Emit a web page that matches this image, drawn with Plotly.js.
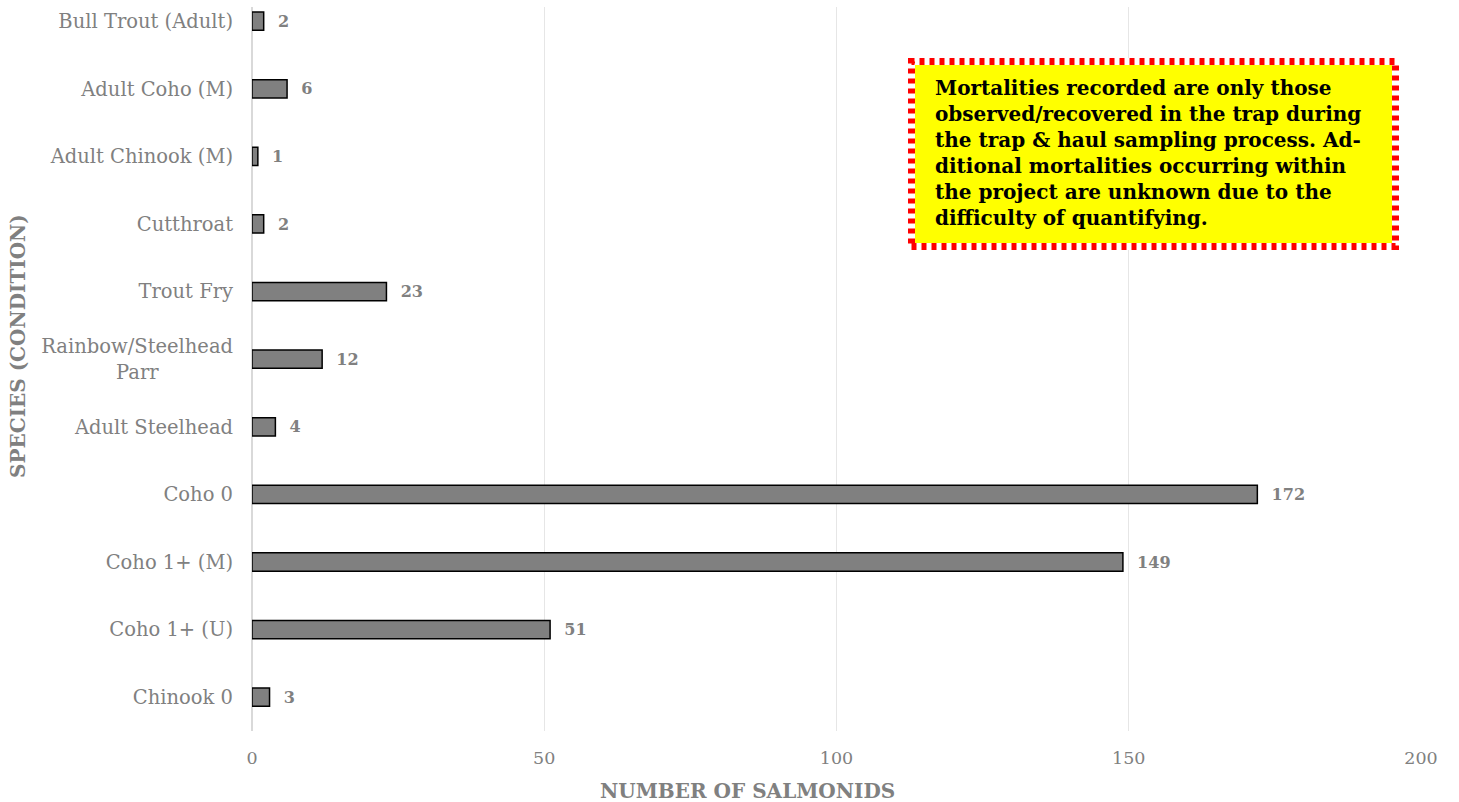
<!DOCTYPE html>
<html><head><meta charset="utf-8">
<script src="https://cdn.plot.ly/plotly-3.0.1.min.js"></script>
<style>html,body{margin:0;padding:0;background:#fff;}</style>
</head><body>
<div id="chart" style="width:1459px;height:802px;"></div>
<script>
const categories = ["Chinook 0","Coho 1+ (U)","Coho 1+ (M)","Coho 0","Adult Steelhead","Rainbow/Steelhead<br>Parr\u00a0\u00a0\u00a0\u00a0\u00a0\u00a0\u00a0\u00a0\u00a0\u00a0\u00a0\u00a0","Trout Fry","Cutthroat","Adult Chinook (M)","Adult Coho (M)","Bull Trout (Adult)"];
const counts = [3,51,149,172,4,12,23,2,1,6,2];
const xTicks = [0,50,100,150,200];
const xTitle = "NUMBER OF SALMONIDS";
const yTitle = "SPECIES (CONDITION)";
const note = "Mortalities recorded are only those<br>observed/recovered in the trap during<br>the trap &amp; haul sampling process. Ad-<br>ditional mortalities occurring within<br>the project are unknown due to the<br>difficulty of quantifying.";

const serif = "DejaVu Serif, Liberation Serif, serif";
const grey = "#808080";

const trace = {
  type: "bar", orientation: "h",
  x: counts, y: categories,
  width: 0.27,
  marker: {color: "#808080", line: {color: "#000000", width: 1.5}},
  texttemplate: "\u00a0\u00a0%{x}",
  textposition: "outside",
  cliponaxis: false,
  textfont: {family: serif, size: 18.5, color: grey, weight: "bold"},
  hoverinfo: "none"
};

const layout = {
  width: 1459, height: 802,
  margin: {l: 252, r: 38, t: 7, b: 71},
  paper_bgcolor: "#fff", plot_bgcolor: "#fff",
  showlegend: false,
  font: {family: serif, color: grey},
  xaxis: {
    range: [0, 200], tickvals: xTicks, ticktext: xTicks.map(String),
    showgrid: true, gridcolor: "#e6e6e6", gridwidth: 1,
    zeroline: true, zerolinecolor: "#d9d9d9", zerolinewidth: 1.5,
    showline: false, ticks: "",
    tickfont: {family: serif, size: 17.5, color: grey},
    ticklabelstandoff: 14
  },
  yaxis: {
    type: "category", categoryorder: "array", categoryarray: categories,
    range: [-0.5, 10.21],
    showgrid: false, zeroline: false, showline: false, ticks: "",
    tickfont: {family: serif, size: 19.5, color: grey},
    ticklabelstandoff: 18
  },
  shapes: [
    {type: "rect", xref: "x", yref: "paper", layer: "above",
     x0: (908-252)/5.845, x1: (1399-252)/5.845, y0: (731-250)/724, y1: (731-58)/724,
     fillcolor: "#ffffff", line: {width: 0}},
    {type: "rect", xref: "x", yref: "paper", layer: "above",
     x0: (915-252)/5.845, x1: (1392-252)/5.845, y0: (731-243)/724, y1: (731-65)/724,
     fillcolor: "#ffff00", line: {width: 0}},
    {type: "rect", xref: "x", yref: "paper", layer: "above",
     x0: (911.5-252)/5.845, x1: (1395.5-252)/5.845, y0: (731-246.5)/724, y1: (731-61.5)/724,
     fillcolor: "rgba(0,0,0,0)", line: {color: "#ff0000", width: 7, dash: "5px,5px"}}
  ],
  annotations: [
    {xref: "x", yref: "paper", x: (933-252)/5.845, y: (731-74)/724,
     xanchor: "left", yanchor: "top", align: "left", showarrow: false,
     text: note, font: {family: serif, size: 20, color: "#000000", weight: "bold"}},
    {xref: "paper", yref: "paper", x: (747-252)/1169, y: (731-791)/724,
     xanchor: "center", yanchor: "middle", showarrow: false,
     text: xTitle, font: {family: serif, size: 20, color: grey, weight: "bold"}},
    {xref: "paper", yref: "paper", x: (18-252)/1169, y: (731-346)/724,
     xanchor: "center", yanchor: "middle", showarrow: false, textangle: -90,
     text: yTitle, font: {family: serif, size: 20, color: grey, weight: "bold"}}
  ]
};

Plotly.newPlot("chart", [trace], layout, {displayModeBar: false, staticPlot: true});
</script>
</body></html>
